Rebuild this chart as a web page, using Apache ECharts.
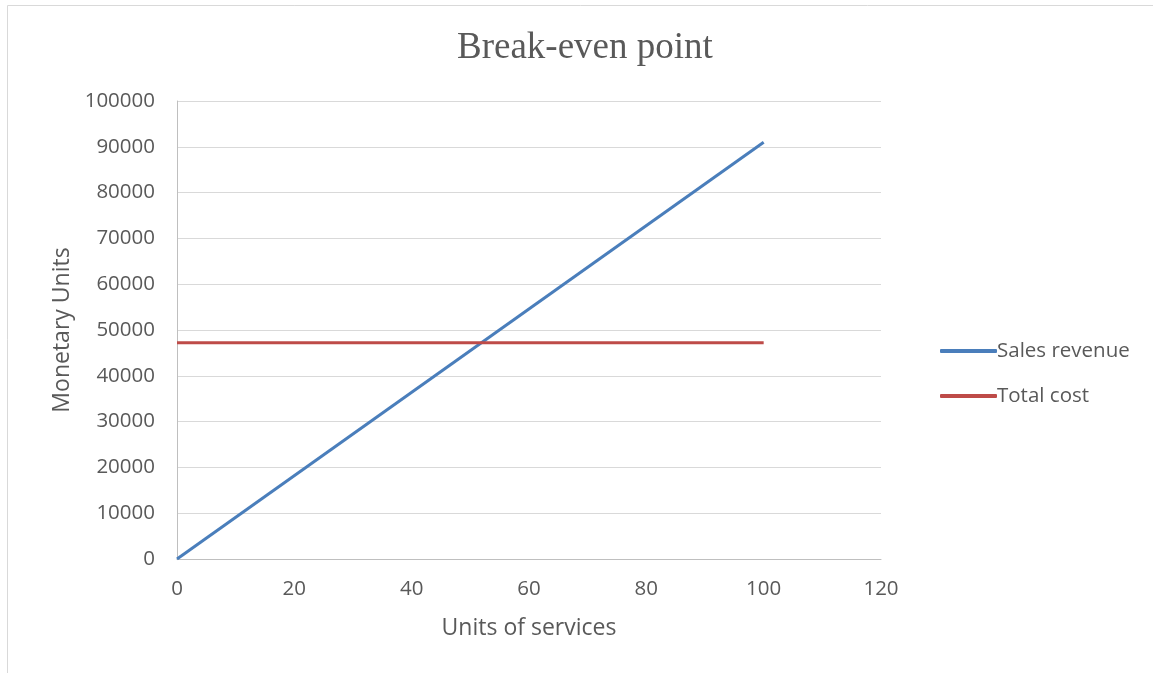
<!DOCTYPE html>
<html><head><meta charset="utf-8">
<script src="https://cdn.jsdelivr.net/npm/echarts@6/dist/echarts.min.js"></script>
<style>html,body{margin:0;padding:0;background:#fff}#c{width:1153px;height:673px}</style>
</head><body><div id="c"></div>
<script>
const units = [0, 100];
const salesRevenue = [0, 91000];
const totalCost = [47200, 47200];
const seriesNames = ['Sales revenue', 'Total cost'];
const chartTitle = 'Break-even point';
const xName = 'Units of services';
const yName = 'Monetary Units';

const chart = echarts.init(document.getElementById('c'));
const lbl = {color:'#595959', fontFamily:'"Open Sans", "Liberation Sans", sans-serif', fontSize:20.5};
const nameLbl = Object.assign({}, lbl, {fontSize:23});
chart.setOption({
  animation:false,
  graphic:[{type:'rect', shape:{x:7.5,y:5.5,width:1200,height:700}, style:{fill:'none', stroke:'#D9D9D9', lineWidth:1}, silent:true}],
  title:{text:chartTitle, left:452, top:25, textStyle:{fontFamily:'"Liberation Serif","DejaVu Serif",serif', fontWeight:'normal', fontSize:37, color:'#595959'}},
  grid:{left:177, right:272, top:101, bottom:114},
  legend:{orient:'vertical', left:935, top:334, icon:'roundRect', itemWidth:57, itemHeight:4, itemGap:21,
    textStyle:Object.assign({}, lbl, {padding:[0,0,0,-5], lineHeight:24}), data:seriesNames},
  xAxis:{type:'value', min:0, max:120, interval:20,
    name:xName, nameLocation:'middle', nameGap:58, nameTextStyle:nameLbl,
    axisLine:{show:true, lineStyle:{color:'#BFBFBF', width:1}}, axisTick:{show:false},
    axisLabel:Object.assign({margin:20}, lbl), splitLine:{show:false}},
  yAxis:{type:'value', min:0, max:100000, interval:10000,
    name:yName, nameLocation:'middle', nameGap:102, nameTextStyle:nameLbl,
    axisLine:{show:true, lineStyle:{color:'#BFBFBF', width:1}}, axisTick:{show:false},
    axisLabel:Object.assign({margin:22, formatter:v=>String(v)}, lbl), splitLine:{lineStyle:{color:'#D9D9D9', width:1}}},
  series:[
    {name:seriesNames[0], type:'line', showSymbol:false, symbol:'none', data:units.map((u,i)=>[u, salesRevenue[i]]), lineStyle:{color:'#4A7EBB', width:3}, itemStyle:{color:'#4A7EBB'}},
    {name:seriesNames[1], type:'line', showSymbol:false, symbol:'none', data:units.map((u,i)=>[u, totalCost[i]]), lineStyle:{color:'#BE4B48', width:3}, itemStyle:{color:'#BE4B48'}}
  ]
});
</script></body></html>
